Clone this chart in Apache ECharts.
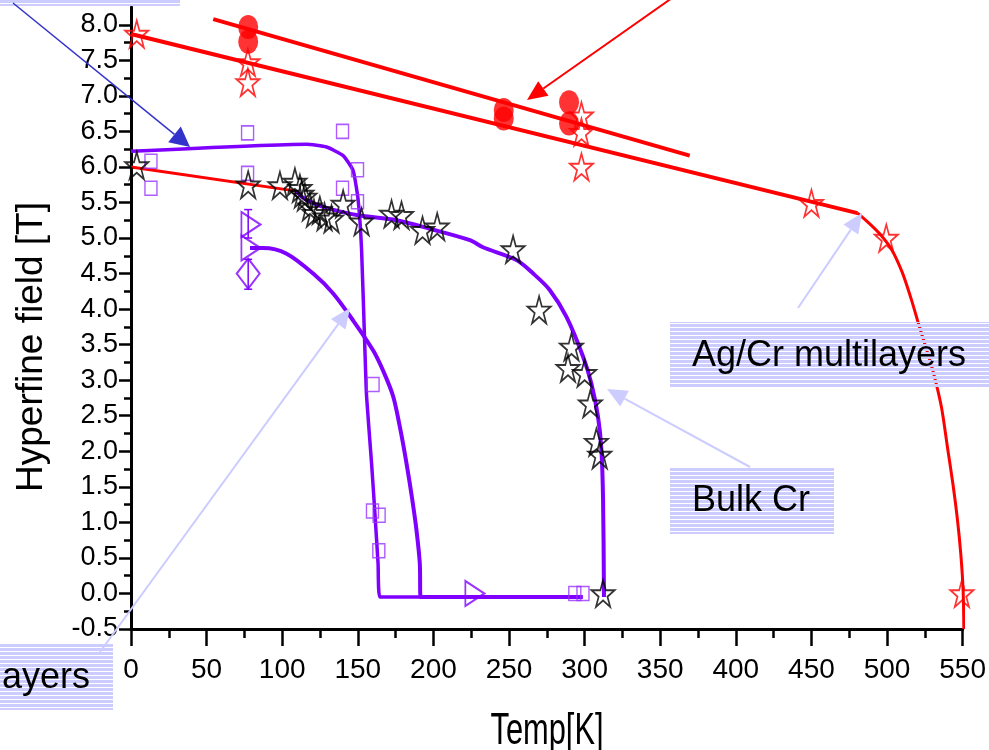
<!DOCTYPE html>
<html>
<head>
<meta charset="utf-8">
<script src="https://cdn.jsdelivr.net/npm/echarts@6/dist/echarts.min.js"></script>
<style>
  html, body { margin: 0; background: #fff; }
  #main { width: 989px; height: 750px; }
</style>
</head>
<body>
<div id="main"></div>
<script>
// ---- Ag/Cr multilayers (red) ----
const redStars = [[3.8, 7.87], [77.3, 7.47], [77.3, 7.19], [297.9, 6.72], [297.9, 6.49], [297.9, 6.0], [450, 5.49], [499.5, 5.0], [549.5, 0]];
const redDots = [[77.5, 7.97], [77.5, 7.76], [246.5, 6.80], [246.5, 6.68], [289.7, 6.91], [289.7, 6.61]];
const redFitUpper = [[54.4, 8.08], [369.5, 6.16]];
const redFitLower = [[0, 7.87], [480.5, 5.35]];
const redFitCurve = [[480.5, 5.35], [488, 5.21], [496, 5.04], [503, 4.84], [510, 4.52], [516, 4.14], [521, 3.78], [526, 3.44], [531, 3.08], [536, 2.62], [540, 2.05], [543.5, 1.55], [546.5, 1.05], [548.8, 0.55], [550.3, 0.05], [550.8, -0.5]];

// ---- Bulk Cr (black) ----
const blackStars = [[3.8, 6.02], [77.5, 5.75], [98.5, 5.74], [108.4, 5.79], [111.7, 5.70], [113, 5.62], [115, 5.58], [118.3, 5.44], [121, 5.35], [124.9, 5.39], [128, 5.30], [132.6, 5.27], [140.3, 5.48], [152.5, 5.23], [172.3, 5.34], [178.9, 5.32], [192.8, 5.11], [202.5, 5.16], [252.7, 4.84], [269.9, 3.99], [291.3, 3.47], [289, 3.17], [300, 3.10], [303.8, 2.67], [307.8, 2.13], [310, 1.95], [312.2, 0]];
const bulkLowFit = [[0, 6.0], [109.5, 5.66]];
const bulkCurve = [[109.5, 5.66], [113, 5.58], [120.3, 5.49], [131.5, 5.41], [150.2, 5.32], [175.6, 5.25], [197.6, 5.13], [224.1, 4.97], [232.8, 4.87], [254.9, 4.69], [266, 4.5], [276.9, 4.27], [288, 3.89], [299, 3.33], [304.5, 2.95], [308.9, 2.48], [311.1, 2.02], [312.2, 1.31], [312.8, -0.05]];

// ---- thin films (purple) ----
const filmCurveA = [[0, 6.22], [116.1, 6.32], [129.3, 6.28], [140.3, 6.16], [146.9, 5.95], [150.2, 5.54], [152.5, 4.83], [154.7, 3.42], [155.8, 2.77], [159.1, 1.83], [161.3, 1.13], [163.4, 0.42], [164.6, -0.05], [298.7, -0.05]];
const filmCurveB = [[78.7, 4.86], [87.4, 4.86], [102.9, 4.78], [120.5, 4.5], [133.7, 4.22], [146.9, 3.84], [160.1, 3.42], [167, 3.12], [173.4, 2.77], [178.2, 2.3], [182.2, 1.83], [185.8, 1.35], [188.8, 0.89], [191, 0.42], [191.5, -0.05], [298.7, -0.05]];
const filmSquares = [[77.1, 6.48], [139.9, 6.50], [13.2, 6.08], [13.2, 5.70], [77.1, 5.91], [149.8, 5.96], [139.9, 5.70], [149.8, 5.51], [160.1, 2.94], [159.7, 1.16], [164.1, 1.10], [163.9, 0.60], [293.5, 0], [298.9, 0]];
const filmTriangles = [[79.3, 5.19], [79.3, 4.86], [227.4, 0]];
const filmDiamonds = [[77.5, 4.5]];
const filmErrBars = [[77.5, 5.0, 5.4], [77.5, 4.28, 4.7]];

// axis ticks
const xMin = 0, xMax = 550;
const yMin = -0.5, yMax = 8.25;
const yTicks = [-0.5, 0, 0.5, 1, 1.5, 2, 2.5, 3, 3.5, 4, 4.5, 5, 5.5, 6, 6.5, 7, 7.5, 8];
const yMinorTicks = [-0.25, 0.25, 0.75, 1.25, 1.75, 2.25, 2.75, 3.25, 3.75, 4.25, 4.75, 5.25, 5.75, 6.25, 6.75, 7.25, 7.75];

const RED = '#ff0000';
const PURPLE = '#7f00ff';
const SQ_PURPLE = '#9933ff';
const LAV = '#ccccff';
const font = "'Liberation Sans', Arial, sans-serif";
const starPath = 'path://M100,0L122.45,69.1L195.1,69.1L136.3,111.8L158.8,180.9L100,138.2L41.2,180.9L63.7,111.8L4.9,69.1L77.55,69.1Z';
const triPath = 'path://M0,0L10,5L0,10Z';

const chart = echarts.init(document.getElementById('main'));

// striped fill for the label boxes (transparent gaps between the stripes)
const hatch = document.createElement('canvas');
hatch.width = 4; hatch.height = 4;
const hctx = hatch.getContext('2d');
hctx.fillStyle = LAV;
hctx.fillRect(0, 0, 4, 3);

function labelBox(x, y, w, h) {
  return { type: 'rect', z: 10, shape: { x: x, y: y, width: w, height: h }, style: { fill: { image: hatch, repeat: 'repeat' } } };
}

function labelText(x, y, text, align) {
  return { type: 'text', z: 11, x: x, y: y, style: { text: text, font: '36px ' + font, fill: '#000', textAlign: align || 'left', textVerticalAlign: 'middle' } };
}

function arrow(x1, y1, x2, y2, color, lw, hl, hw) {
  const dx = x2 - x1, dy = y2 - y1, len = Math.hypot(dx, dy);
  const ux = dx / len, uy = dy / len;
  const bx = x2 - ux * hl, by = y2 - uy * hl;
  return [
    { type: 'line', z: 20, shape: { x1: x1, y1: y1, x2: bx, y2: by }, style: { stroke: color, lineWidth: lw } },
    { type: 'polygon', z: 20, shape: { points: [[x2, y2], [bx - uy * hw / 2, by + ux * hw / 2], [bx + uy * hw / 2, by - ux * hw / 2]] }, style: { fill: color } }
  ];
}

function lineSeries(data, color, width, smooth) {
  return {
    type: 'line', data: data, symbol: 'none', smooth: smooth || false,
    lineStyle: { color: color, width: width }, silent: true, z: 2
  };
}

function markerSeries(data, symbol, size, color, bw, fill) {
  return {
    type: 'scatter', data: data, symbol: symbol, symbolSize: size, symbolKeepAspect: false,
    itemStyle: { color: fill || 'rgba(0,0,0,0)', borderColor: color, borderWidth: bw },
    silent: true, z: 3
  };
}

const graphics = [].concat(
  [labelBox(0, -60, 180, 66), labelBox(670, 322, 330, 66), labelBox(670, 468, 164, 66), labelBox(-10, 643, 123, 67)],
  [labelText(692, 356, 'Ag/Cr multilayers'), labelText(692, 501, 'Bulk Cr'), labelText(90, 678, 'ayers', 'right')],
  arrow(13, 3, 190, 147, '#3333cc', 1.5, 20, 20),
  arrow(672, -2, 527, 100, RED, 2, 20, 18),
  arrow(798, 308, 862, 213, LAV, 2, 20, 18),
  arrow(750, 467, 607, 389, LAV, 2, 20, 18),
  arrow(100, 652, 350, 308, LAV, 2, 20, 18),
  [
    { type: 'text', x: 32, y: 347, rotation: Math.PI / 2, style: { text: 'Hyperfine field [T]', font: '37px ' + font, fill: '#000', textAlign: 'center', textVerticalAlign: 'middle' } },
    { type: 'text', x: 547, y: 732, scaleX: 0.7, style: { text: 'Temp[K]', font: '44px ' + font, fill: '#000', textAlign: 'center', textVerticalAlign: 'middle' } }
  ]
);

chart.setOption({
  animation: false,
  backgroundColor: '#fff',
  grid: { left: 131, right: 26, top: 7, bottom: 121 },
  xAxis: {
    type: 'value', min: xMin, max: xMax, interval: 50,
    axisLine: { show: true, onZero: false, lineStyle: { color: '#000', width: 3 } },
    axisTick: { show: true, inside: false, length: 17, lineStyle: { color: '#000', width: 2.5 } },
    minorTick: { show: true, splitNumber: 2, length: 9, lineStyle: { color: '#000', width: 2.5 } },
    axisLabel: { color: '#000', fontFamily: font, fontSize: 28, margin: 27 },
    splitLine: { show: false }
  },
  yAxis: [{
    type: 'value', min: yMin, max: yMax, interval: 0.5,
    axisLine: { show: true, onZero: false, lineStyle: { color: '#000', width: 3 } },
    axisTick: { show: true, length: 12, customValues: yTicks, lineStyle: { color: '#000', width: 2.5 } },
    axisLabel: { color: '#000', fontFamily: font, fontSize: 27, margin: 13, customValues: yTicks, formatter: v => v.toFixed(1) },
    splitLine: { show: false }
  }, {
    type: 'value', min: yMin, max: yMax, interval: 0.5, position: 'left',
    axisLine: { show: false },
    axisTick: { show: true, length: 7, customValues: yMinorTicks, lineStyle: { color: '#000', width: 2.5 } },
    axisLabel: { show: false },
    splitLine: { show: false }
  }],
  series: [
    lineSeries(redFitUpper, RED, 4),
    lineSeries(redFitLower, RED, 4),
    lineSeries(redFitCurve, RED, 3, 0.3),
    lineSeries(bulkLowFit, RED, 3),
    lineSeries(bulkCurve, PURPLE, 4, 0.3),
    lineSeries(filmCurveA, PURPLE, 3.5, 0.15),
    lineSeries(filmCurveB, PURPLE, 4, 0.3),
    {
      type: 'custom', data: filmErrBars, silent: true, z: 3,
      renderItem: function (params, api) {
        const lo = api.coord([api.value(0), api.value(1)]);
        const hi = api.coord([api.value(0), api.value(2)]);
        const st = { stroke: PURPLE, lineWidth: 1.5 };
        return {
          type: 'group', children: [
            { type: 'line', shape: { x1: lo[0], y1: lo[1], x2: hi[0], y2: hi[1] }, style: st },
            { type: 'line', shape: { x1: lo[0] - 4, y1: lo[1], x2: lo[0] + 4, y2: lo[1] }, style: st },
            { type: 'line', shape: { x1: hi[0] - 4, y1: hi[1], x2: hi[0] + 4, y2: hi[1] }, style: st }
          ]
        };
      }
    },
    markerSeries(filmSquares, 'rect', [12, 14], SQ_PURPLE, 1.5),
    markerSeries(filmTriangles, triPath, [19, 25], PURPLE, 2),
    markerSeries(filmDiamonds, 'diamond', [23, 30], PURPLE, 2),
    markerSeries(blackStars, starPath, [23, 27], '#000', 1.8),
    markerSeries(redStars, starPath, [23, 27], RED, 1.8),
    markerSeries(redDots, 'circle', [20, 24], RED, 0, RED)
  ],
  graphic: graphics
});
</script>
</body>
</html>
